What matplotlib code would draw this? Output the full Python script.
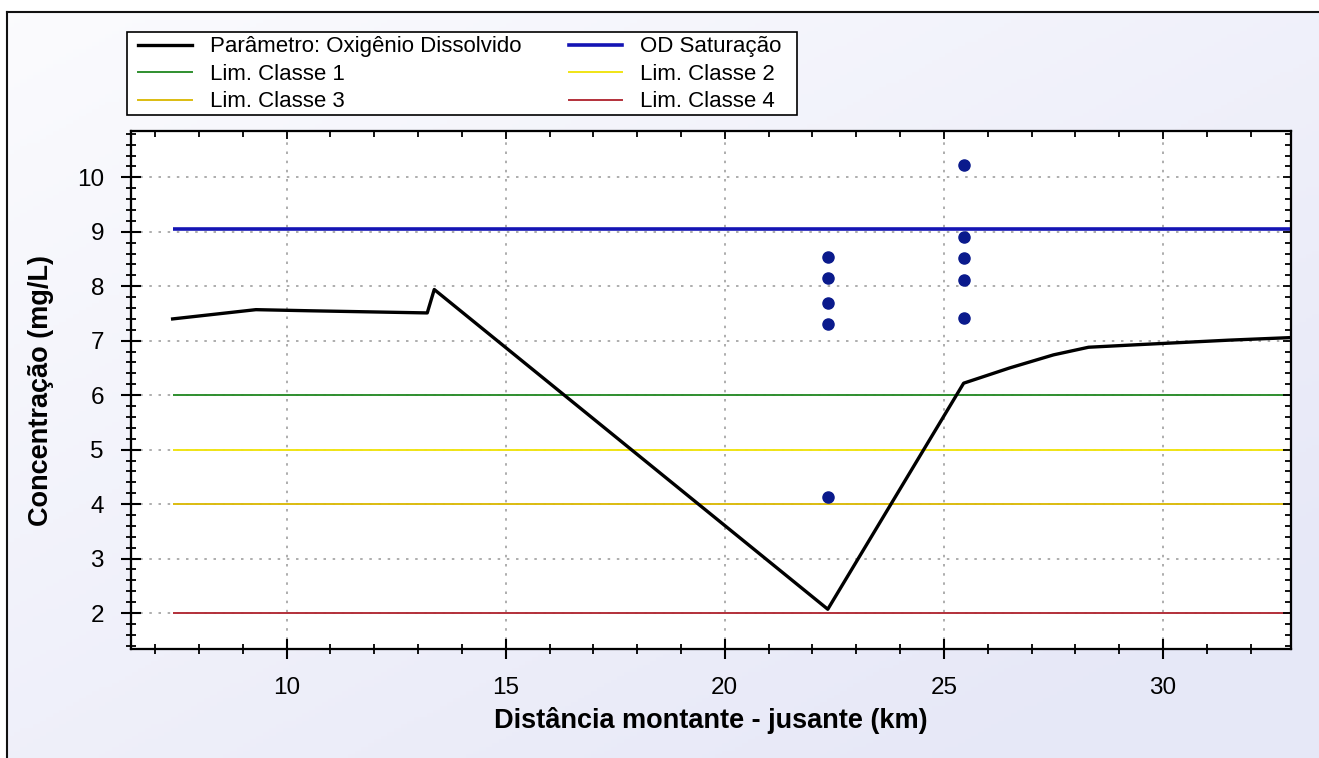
import numpy as np
import matplotlib
matplotlib.use("Agg")
import matplotlib.pyplot as plt
from matplotlib.lines import Line2D
from matplotlib.patches import Rectangle
from matplotlib.ticker import MultipleLocator

plt.rcParams['font.family'] = ['Liberation Sans', 'DejaVu Sans']

# Simulated dissolved-oxygen profile along the river
distance_km = [7.4, 9.3, 10.5, 13.21, 13.37, 22.35, 25.45, 26.5, 27.5, 28.3, 29.5, 30.5, 31.5, 33.0]
od_model = [7.40, 7.57, 7.55, 7.51, 7.94, 2.07, 6.22, 6.50, 6.74, 6.88, 6.93, 6.97, 7.01, 7.06]

# Field measurements (two sampling stations)
obs_km = [22.35, 22.35, 22.35, 22.35, 22.35, 25.45, 25.45, 25.45, 25.45, 25.45]
obs_od = [8.53, 8.16, 7.69, 7.31, 4.13, 10.22, 8.90, 8.51, 8.11, 7.41]

# Reference levels (mg/L)
od_saturation = 9.05
class_limits = [6.0, 5.0, 4.0, 2.0]
class_names = ["Lim. Classe 1", "Lim. Classe 2", "Lim. Classe 3", "Lim. Classe 4"]
class_colors = ["#2f8f2f", "#f0e415", "#dcbc10", "#b3303a"]

x_start, x_end = 7.4, 33.0

W, H = 1319, 758
fig = plt.figure(figsize=(W / 100, H / 100), dpi=100)
fig.patch.set_facecolor("white")

# window-like background with a soft lavender gradient
bg = fig.add_axes([7 / W, 0, 1 - 7 / W, 1 - 12 / H], zorder=-10)
gx = np.linspace(0, 1, 200)
gy = np.linspace(0, 1, 200)
GX, GY = np.meshgrid(gx, gy)
t = np.clip(0.55 * GX + 0.6 * GY, 0, 1)
c0 = np.array([0.985, 0.985, 0.995])
c1 = np.array([0.905, 0.910, 0.970])
img = c0[None, None, :] * (1 - t[..., None]) + c1[None, None, :] * t[..., None]
bg.imshow(img, aspect="auto", origin="upper", extent=[0, 1, 0, 1])
bg.set_xlim(0, 1)
bg.set_ylim(0, 1)
for s in ["right", "bottom"]:
    bg.spines[s].set_visible(False)
for s in ["left", "top"]:
    bg.spines[s].set_linewidth(1.5)
    bg.spines[s].set_color("#111111")
bg.set_xticks([])
bg.set_yticks([])

ax = fig.add_axes([131 / W, 1 - 649 / H, (1291 - 131) / W, (649 - 131) / H])
ax.set_facecolor("white")

lw_lim = 1.4
handles = {}
for val, name, col in zip(class_limits, class_names, class_colors):
    ax.hlines(val, x_start, x_end, color=col, lw=lw_lim, zorder=3)
    handles[name] = Line2D([], [], color=col, lw=lw_lim)
ax.hlines(od_saturation, x_start, x_end, color="#1414b4", lw=2.6, zorder=3)
handles["OD Saturação"] = Line2D([], [], color="#1414b4", lw=2.6)

ax.plot(distance_km, od_model, color="black", lw=2.4, zorder=4)
handles["Parâmetro: Oxigênio Dissolvido"] = Line2D([], [], color="black", lw=2.4)

ax.plot(obs_km, obs_od, linestyle="none", marker="o", ms=8,
        mfc="#0a1a8c", mec="#0a1a8c", zorder=5)

ax.set_xlim(6.45, 32.92)
ax.set_ylim(1.34, 10.85)
ax.xaxis.set_major_locator(MultipleLocator(5))
ax.xaxis.set_minor_locator(MultipleLocator(1))
ax.yaxis.set_major_locator(MultipleLocator(1))
ax.yaxis.set_minor_locator(MultipleLocator(0.2))

ax.grid(True, which="major", color="#a0a0a0", linestyle=(0, (1.5, 4)), lw=1.2, zorder=1)

for s in ax.spines.values():
    s.set_linewidth(1.5)
ax.tick_params(which="major", direction="inout", length=15, width=1.5,
               labelsize=17.5, top=False, right=False)
ax.tick_params(axis="x", which="major", pad=13)
ax.tick_params(axis="y", which="major", pad=12)
ax.tick_params(which="minor", direction="inout", length=7.5, width=1.3,
               top=False, right=False)

# inward ticks on the opposite sides
axr = ax.twinx()
axr.set_ylim(ax.get_ylim())
axr.yaxis.set_major_locator(MultipleLocator(1))
axr.yaxis.set_minor_locator(MultipleLocator(0.2))
axr.tick_params(which="both", direction="in", labelright=False, width=1.3)
axr.tick_params(which="major", length=6)
axr.tick_params(which="minor", length=4)
axt = ax.twiny()
axt.set_xlim(ax.get_xlim())
axt.xaxis.set_major_locator(MultipleLocator(5))
axt.xaxis.set_minor_locator(MultipleLocator(1))
axt.tick_params(which="both", direction="in", labeltop=False, width=1.3)
axt.tick_params(which="major", length=6)
axt.tick_params(which="minor", length=4)
for a in (axr, axt):
    for s in a.spines.values():
        s.set_linewidth(1.5)

ax.set_xlabel("Distância montante - jusante (km)", fontsize=19.5, fontweight="bold")
ax.xaxis.set_label_coords(0.5, (649 - 707) / 518)
ax.set_ylabel("Concentração (mg/L)", fontsize=19.5, fontweight="bold")
ax.yaxis.set_label_coords((54 - 131) / 1160, 0.5)

# legend box
fig.patches.append(Rectangle((127 / W, 1 - 115 / H), 670 / W, 83 / H,
                             transform=fig.transFigure, facecolor="white",
                             edgecolor="black", lw=1.2, zorder=1))

order = ["Parâmetro: Oxigênio Dissolvido", "Lim. Classe 1", "Lim. Classe 3",
         "OD Saturação", "Lim. Classe 2", "Lim. Classe 4"]
leg = fig.legend([handles[k] for k in order], order, ncol=2,
                 loc="upper left",
                 bbox_to_anchor=(134 / W, 1 - 32 / H),
                 fontsize=16, frameon=False, handlelength=2.4,
                 handletextpad=0.8, labelspacing=0.29, borderaxespad=0,
                 borderpad=0.2, columnspacing=2.15)
leg.set_zorder(2)

fig.savefig("out.png", dpi=100)
